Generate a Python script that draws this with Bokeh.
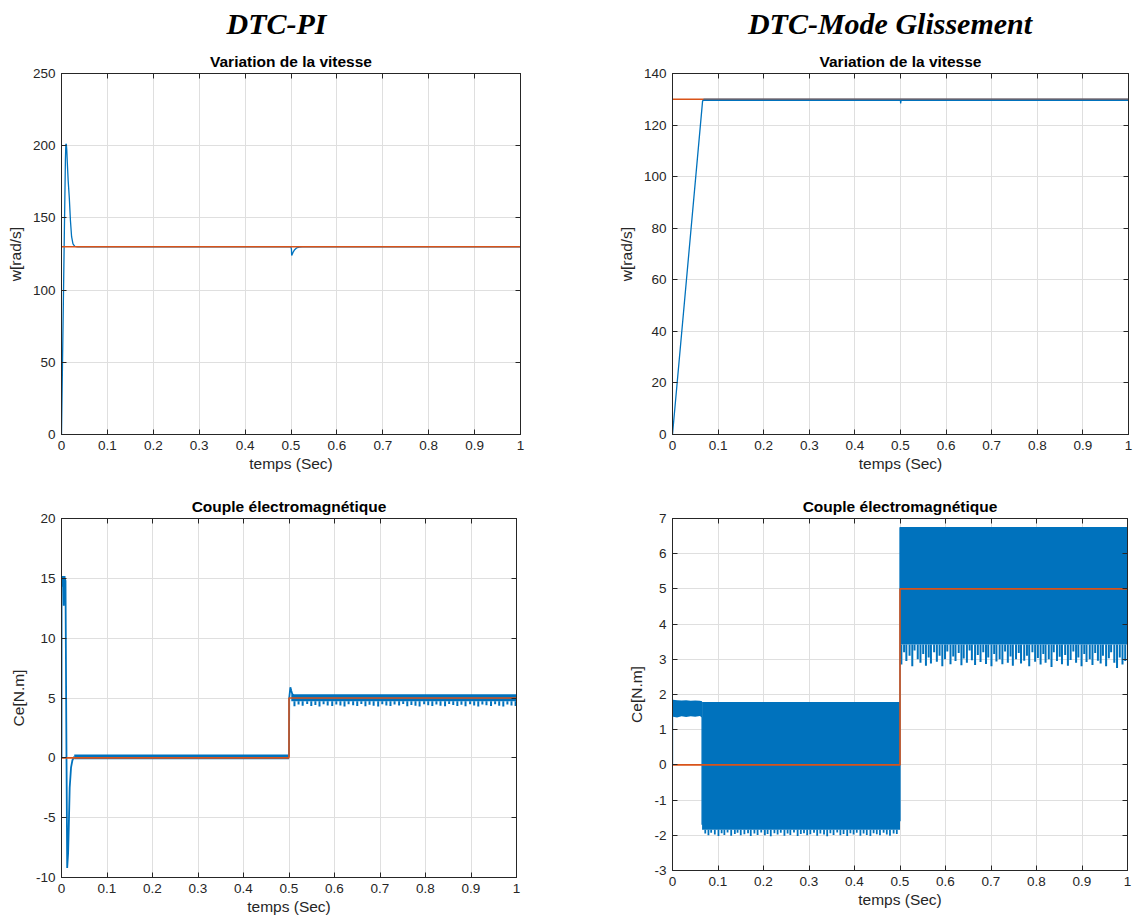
from bokeh.plotting import figure
from bokeh.layouts import column, row
from bokeh.models import LinearAxis, Title, Label, FixedTicker, Range1d, CustomLabelingPolicy
from bokeh.embed import file_html
from bokeh.resources import INLINE

BLUE = "#0072BD"
RED = "#D95319"
INK = "#262626"
GRID = "#dfdfdf"
SANS = "Liberation Sans"
SERIF = "Liberation Serif"

# ---- shared axis ticks -------------------------------------------------
x_ticks = [0, 0.1, 0.2, 0.3, 0.4, 0.5, 0.6, 0.7, 0.8, 0.9, 1]
x_tick_labels = ["0", "0.1", "0.2", "0.3", "0.4", "0.5", "0.6", "0.7", "0.8", "0.9", "1"]

w_pi_ticks = [0, 50, 100, 150, 200, 250]
w_smc_ticks = [0, 20, 40, 60, 80, 100, 120, 140]
ce_pi_ticks = [-10, -5, 0, 5, 10, 15, 20]
ce_smc_ticks = [-3, -2, -1, 0, 1, 2, 3, 4, 5, 6, 7]

# ---- speed, DTC-PI -----------------------------------------------------
t_w_pi = [0, 0.003, 0.006, 0.0085, 0.0095, 0.0105, 0.0115, 0.0127, 0.0145, 0.017,
          0.0195, 0.022, 0.025, 0.029, 0.035, 0.5, 0.501, 0.5015, 0.503, 0.505,
          0.508, 0.512, 0.518, 0.525, 1.0]
w_pi = [0, 68, 135, 190, 201, 201, 197, 188, 176, 164,
        148, 137, 132, 130.3, 130, 130, 128, 124, 125, 126.5,
        128, 129.2, 129.8, 130, 130]

# speed reference
t_w_ref = [0, 1]
w_ref = [130, 130]

# ---- speed, DTC sliding mode --------------------------------------------
t_w_smc = [0, 0.066, 0.068, 0.5, 0.5003, 0.5012, 1.0]
w_smc = [0, 129.4, 129.6, 129.6, 128.4, 129.6, 129.6]
t_w_smc_band = [0.068, 1.0]
w_smc_band_lo = [129.5, 129.5]
w_smc_band_hi = [130.4, 130.4]

# ---- torque, DTC-PI ------------------------------------------------------
t_ce_pi = [0, 0.0002, 0.0015, 0.003, 0.0045, 0.005, 0.0055, 0.007, 0.0088, 0.0105,
           0.0125, 0.0145, 0.016, 0.018, 0.021, 0.024, 0.028]
ce_pi = [0, 15.1, 14.5, 15.1, 14.4, 12.7, 14.9, 15.0, 14.8, 3.0,
         -9.2, -8.0, -5.8, -2.5, -0.8, -0.2, 0.1]
t_ce_pi_start = [0.0003, 0.0088]
ce_pi_start_lo = [14.3, 14.3]
ce_pi_start_hi = [15.2, 15.2]
t_ce_pi_zero = [0.028, 0.5]
ce_pi_zero_lo = [-0.12, -0.12]
ce_pi_zero_hi = [0.28, 0.28]
t_ce_pi_step = [0.5, 0.5005, 0.503, 0.505, 0.507, 0.51]
ce_pi_step = [0.1, 5.0, 5.9, 5.6, 5.35, 5.2]
t_ce_pi_load = [0.505, 1.0]
ce_pi_load_lo = [4.72, 4.72]
ce_pi_load_hi = [5.32, 5.32]
pi_dip_t = [0.512, 0.521, 0.530, 0.540, 0.549, 0.558, 0.567, 0.576, 0.585, 0.595,
            0.604, 0.613, 0.622, 0.631, 0.641, 0.650, 0.659, 0.668, 0.677, 0.686,
            0.696, 0.705, 0.714, 0.723, 0.732, 0.742, 0.751, 0.760, 0.769, 0.778,
            0.787, 0.797, 0.806, 0.815, 0.824, 0.833, 0.843, 0.852, 0.861, 0.870,
            0.879, 0.888, 0.898, 0.907, 0.916, 0.925, 0.934, 0.944, 0.953, 0.962,
            0.971, 0.980, 0.989, 0.998]
pi_dip_y = [4.32, 4.45, 4.36, 4.5, 4.34, 4.42, 4.3, 4.47, 4.38, 4.33,
            4.45, 4.37, 4.3, 4.48, 4.4, 4.34, 4.5, 4.31, 4.43, 4.36,
            4.3, 4.47, 4.38, 4.33, 4.45, 4.37, 4.5, 4.32, 4.42, 4.35,
            4.3, 4.47, 4.4, 4.34, 4.45, 4.36, 4.31, 4.49, 4.41, 4.34,
            4.43, 4.32, 4.48, 4.37, 4.3, 4.45, 4.4, 4.33, 4.47, 4.36,
            4.3, 4.45, 4.38, 4.34]

# torque reference (load step at 0.5 s)
t_ce_ref = [0, 0.5, 0.5, 1]
ce_ref = [0, 0, 5, 5]

# ---- torque, DTC sliding mode -------------------------------------------
t_smc_a = [0.001, 0.01, 0.02, 0.03, 0.04, 0.05, 0.06, 0.065]
smc_a_hi = [1.85, 1.84, 1.83, 1.84, 1.82, 1.83, 1.82, 1.81]
smc_a_lo = [1.37, 1.35, 1.38, 1.36, 1.38, 1.37, 1.39, 1.35]
t_smc_b = [0.065, 0.5]
smc_b_hi = [1.79, 1.79]
smc_b_lo = [-1.84, -1.84]
t_smc_c = [0.5, 1.0]
smc_c_hi = [6.76, 6.76]
smc_c_lo = [3.42, 3.42]
t_smc_edges = [0, 0.065, 0.5]
smc_edge_lo = [0, -1.7, -1.6]
smc_edge_hi = [1.85, 1.36, 6.75]

smc_b_spike_t = [0.072, 0.079, 0.085, 0.093, 0.101, 0.108, 0.114, 0.121, 0.129, 0.137,
                 0.143, 0.150, 0.158, 0.166, 0.172, 0.180, 0.187, 0.195, 0.203, 0.209,
                 0.216, 0.224, 0.231, 0.238, 0.246, 0.253, 0.259, 0.267, 0.275, 0.282,
                 0.289, 0.296, 0.303, 0.311, 0.318, 0.325, 0.333, 0.340, 0.347, 0.354,
                 0.362, 0.369, 0.376, 0.384, 0.391, 0.398, 0.405, 0.413, 0.420, 0.427,
                 0.435, 0.442, 0.449, 0.456, 0.464, 0.471, 0.478, 0.486, 0.493]
smc_b_spike_y = [-1.95, -2.0, -1.93, -1.98, -2.02, -1.94, -1.99, -1.92, -2.01, -1.96,
                 -1.93, -2.0, -1.97, -1.94, -2.02, -1.95, -1.99, -1.92, -2.0, -1.96,
                 -2.03, -1.94, -1.98, -1.93, -2.01, -1.95, -1.99, -1.92, -2.02, -1.96,
                 -1.94, -2.0, -1.97, -1.93, -2.01, -1.95, -1.98, -2.03, -1.94, -1.99,
                 -1.92, -2.0, -1.96, -2.02, -1.94, -1.98, -1.93, -2.01, -1.95, -1.99,
                 -2.02, -1.94, -1.97, -2.0, -1.93, -1.98, -2.01, -1.95, -1.96]

smc_c_spike_t = [0.503, 0.509, 0.514, 0.521, 0.527, 0.532, 0.539, 0.545, 0.551, 0.557,
                 0.563, 0.568, 0.575, 0.581, 0.587, 0.593, 0.599, 0.604, 0.611, 0.617,
                 0.622, 0.629, 0.635, 0.640, 0.647, 0.653, 0.658, 0.665, 0.671, 0.677,
                 0.683, 0.689, 0.694, 0.701, 0.707, 0.712, 0.719, 0.725, 0.731, 0.737,
                 0.743, 0.748, 0.755, 0.761, 0.766, 0.773, 0.779, 0.784, 0.791, 0.797,
                 0.803, 0.809, 0.815, 0.820, 0.827, 0.833, 0.838, 0.845, 0.851, 0.856,
                 0.863, 0.869, 0.875, 0.881, 0.887, 0.892, 0.899, 0.905, 0.910, 0.917,
                 0.923, 0.929, 0.935, 0.941, 0.946, 0.953, 0.959, 0.964, 0.971, 0.977,
                 0.983, 0.989, 0.995]
smc_c_spike_y = [2.85, 3.2, 2.95, 3.1, 2.8, 3.25, 3.0, 2.9, 3.15, 2.82,
                 3.05, 2.88, 3.2, 2.93, 3.1, 2.8, 3.0, 3.22, 2.86, 3.08,
                 2.95, 3.18, 2.83, 3.02, 2.9, 3.25, 2.97, 2.84, 3.12, 2.92,
                 3.2, 2.87, 3.05, 2.8, 3.15, 2.94, 3.0, 2.86, 3.22, 2.9,
                 3.08, 2.82, 3.0, 3.18, 2.88, 2.96, 3.1, 2.8, 3.2, 2.93,
                 3.04, 2.85, 3.15, 2.9, 3.0, 2.78, 3.2, 2.95, 3.07, 2.86,
                 3.12, 2.82, 2.98, 3.22, 2.9, 3.05, 2.8, 3.15, 2.92, 3.0,
                 2.84, 3.18, 2.96, 2.88, 3.1, 2.8, 3.03, 3.2, 2.9, 2.75,
                 3.05, 2.85, 2.95]

# no labels on the axes that close the frame
NO_LABELS = CustomLabelingPolicy(code="""
    for (const i of [...indices]) { indices.unset(i) }
    return indices
""")


def box_axis(ticks):
    # unlabeled axis that closes the frame with inward ticks
    return LinearAxis(ticker=FixedTicker(ticks=ticks), major_label_text_font_size="0px",
                      major_label_policy=NO_LABELS,
                      major_label_standoff=0, major_tick_in=5, major_tick_out=0,
                      minor_tick_line_color=None, axis_line_color=INK,
                      major_tick_line_color=INK, axis_label=None)


def panel(width, height, borders, y_lim, y_ticks, y_label, subtitle, x_standoffs=(6, 2)):
    left, right, top, bottom = borders
    p = figure(width=width, height=height, title=None,
               x_range=Range1d(0, 1), y_range=Range1d(*y_lim),
               min_border_left=left, min_border_right=right,
               min_border_top=top, min_border_bottom=bottom,
               output_backend="svg", toolbar_location=None,
               x_axis_label="temps (Sec)", y_axis_label=y_label)
    p.background_fill_color = "white"
    p.border_fill_color = "white"
    p.outline_line_color = INK
    p.outline_line_width = 1

    p.xaxis.ticker = FixedTicker(ticks=x_ticks)
    p.xaxis.major_label_overrides = dict(zip(x_ticks, x_tick_labels))
    p.yaxis.ticker = FixedTicker(ticks=y_ticks)
    p.yaxis.major_label_overrides = {v: str(v) for v in y_ticks}
    for ax in p.xaxis + p.yaxis:
        ax.major_tick_in = 5
        ax.major_tick_out = 0
        ax.minor_tick_line_color = None
        ax.axis_line_color = INK
        ax.major_tick_line_color = INK
        ax.major_label_text_color = INK
        ax.major_label_text_font = SANS
        ax.major_label_text_font_size = "13.5px"
        ax.axis_label_text_font = SANS
        ax.axis_label_text_font_size = "15.5px"
        ax.axis_label_text_font_style = "normal"
        ax.axis_label_text_color = INK
    p.xaxis.major_label_standoff = x_standoffs[0]
    p.xaxis.axis_label_standoff = x_standoffs[1]
    p.yaxis.major_label_standoff = 6
    p.yaxis.axis_label_standoff = 6

    p.xgrid.ticker = FixedTicker(ticks=x_ticks)
    p.ygrid.ticker = FixedTicker(ticks=y_ticks)
    p.grid.grid_line_color = GRID
    p.grid.grid_line_width = 1

    p.add_layout(box_axis(x_ticks), "above")
    p.add_layout(box_axis(y_ticks), "right")
    p.add_layout(Title(text=subtitle, align="center", text_font=SANS,
                       text_font_style="bold", text_font_size="15.5px",
                       text_color="black", standoff=7), "above")
    return p


def heading_strip(width, text, x_frac):
    # thin strip carrying the column heading
    h = figure(width=width, height=44, title=None, x_range=Range1d(0, 1), y_range=Range1d(0, 1),
               x_axis_type=None, y_axis_type=None, min_border=0,
               output_backend="svg", toolbar_location=None)
    h.outline_line_color = None
    h.background_fill_color = "white"
    h.border_fill_color = "white"
    h.grid.visible = False
    h.add_layout(Label(x=x_frac, y=0.47, text=text, text_align="center",
                       text_baseline="middle", text_font=SERIF,
                       text_font_style="bold italic", text_font_size="30px",
                       text_color="black"))
    return h


h1 = heading_strip(566, "DTC-PI", 0.4876)
h2 = heading_strip(567, "DTC-Mode Glissement", 0.5705)

# ---- speed panels ---------------------------------------------------------
p1 = panel(566, 441, (61, 46, 28, 48), (0, 250), w_pi_ticks, "w[rad/s]",
           "Variation de la vitesse")
p1.line(t_w_pi, w_pi, line_color=BLUE, line_width=1.3)
p1.line(t_w_ref, w_ref, line_color=RED, line_width=1.6)

p2 = panel(567, 441, (106, 5, 29, 51), (0, 140), w_smc_ticks, "w[rad/s]",
           "Variation de la vitesse")
p2.line(t_w_ref, w_ref, line_color=RED, line_width=1.6)
p2.varea(x=t_w_smc_band, y1=w_smc_band_lo, y2=w_smc_band_hi, fill_color=BLUE, fill_alpha=0.45)
p2.line(t_w_smc, w_smc, line_color=BLUE, line_width=1.3)

# ---- torque panels --------------------------------------------------------
# the left torque panel runs a few pixels past the page bottom, where its
# x-axis title is trimmed by the page edge
p3 = panel(566, 440, (61, 50, 32, 48), (-10, 20), ce_pi_ticks, "Ce[N.m]",
           "Couple électromagnétique", x_standoffs=(6, 2))
p3.varea(x=t_ce_pi_start, y1=ce_pi_start_lo, y2=ce_pi_start_hi, fill_color=BLUE)
p3.line(t_ce_pi, ce_pi, line_color=BLUE, line_width=1.8)
p3.varea(x=t_ce_pi_zero, y1=ce_pi_zero_lo, y2=ce_pi_zero_hi, fill_color=BLUE)
p3.line(t_ce_pi_step, ce_pi_step, line_color=BLUE, line_width=1.8)
p3.varea(x=t_ce_pi_load, y1=ce_pi_load_lo, y2=ce_pi_load_hi, fill_color=BLUE)
p3.segment(x0=pi_dip_t, y0=[4.72] * len(pi_dip_t), x1=pi_dip_t, y1=pi_dip_y,
           line_color=BLUE, line_width=2)
p3.line(t_ce_ref, ce_ref, line_color=RED, line_width=1.6)

p4 = panel(567, 433, (106, 6, 33, 46), (-3, 7), ce_smc_ticks, "Ce[N.m]",
           "Couple électromagnétique")
p4.varea(x=t_smc_a, y1=smc_a_lo, y2=smc_a_hi, fill_color=BLUE)
p4.varea(x=t_smc_b, y1=smc_b_lo, y2=smc_b_hi, fill_color=BLUE)
p4.varea(x=t_smc_c, y1=smc_c_lo, y2=smc_c_hi, fill_color=BLUE)
p4.segment(x0=t_smc_edges, y0=smc_edge_lo, x1=t_smc_edges, y1=smc_edge_hi,
           line_color=BLUE, line_width=1.3)
p4.segment(x0=smc_b_spike_t, y0=[-1.84] * len(smc_b_spike_t), x1=smc_b_spike_t,
           y1=smc_b_spike_y, line_color=BLUE, line_width=1.8)
p4.segment(x0=smc_c_spike_t, y0=[3.42] * len(smc_c_spike_t), x1=smc_c_spike_t,
           y1=smc_c_spike_y, line_color=BLUE, line_width=2)
p4.line(t_ce_ref, ce_ref, line_color=RED, line_width=1.6)

# the page is held to the window height; anything below it is cut off
layout = column(row(h1, h2), row(p1, p2), row(p3, p4, align="start"),
                stylesheets=[":host { height: 918px !important; max-height: 918px !important; overflow: hidden !important; }"])
open("out.html", "w").write(file_html(layout, INLINE))
